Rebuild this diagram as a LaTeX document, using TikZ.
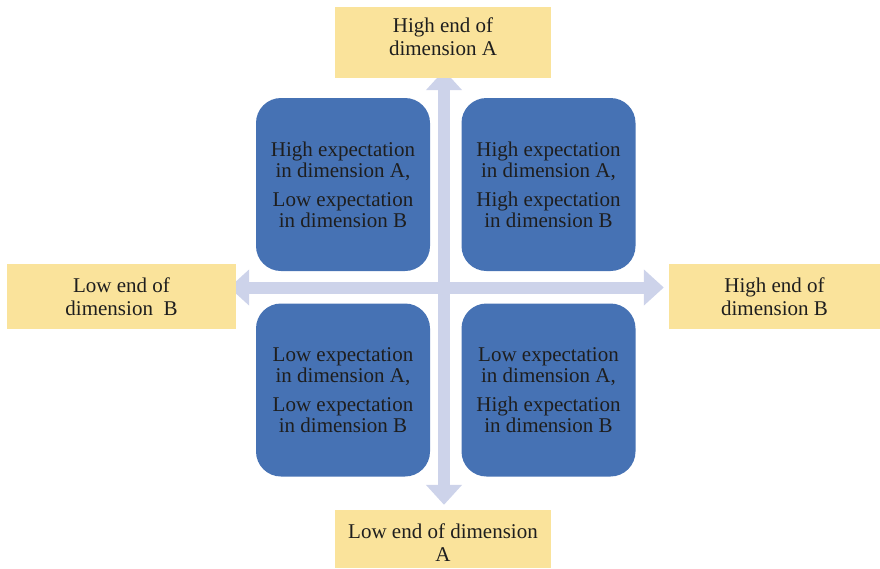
\documentclass[tikz,border=0pt]{standalone}
\usepackage{fontspec}
\setmainfont{Liberation Serif}
\usetikzlibrary{arrows.meta, backgrounds}

\definecolor{endfill}{HTML}{FAE39B}
\definecolor{quadfill}{HTML}{4672B4}
\definecolor{axisfill}{HTML}{CDD3EA}
\definecolor{inktext}{HTML}{1E1E1E}

\begin{document}
\begin{tikzpicture}[x=1pt, y=-1pt,
    endbox/.style={fill=endfill, text=inktext, align=center, inner sep=0pt, font=\fontsize{21}{23}\selectfont},
    quadbox/.style={fill=quadfill, rounded corners=25pt, text=inktext, align=center, minimum width=174pt, minimum height=173pt, inner sep=0pt, font=\fontsize{21}{21}\selectfont},
    axis/.style={draw=axisfill, line width=12pt, {Triangle[width=35pt,length=20pt]}-{Triangle[width=35pt,length=20pt]}}]
    \useasboundingbox (0,0) rectangle (880,568);
    % ends of the two dimensions
    \node[endbox, minimum width=216pt, minimum height=71pt] (highA) at (443,42.5) {High end of\\dimension A\rule[-11pt]{0pt}{0pt}};
    \node[endbox, minimum width=216pt, minimum height=58pt] (lowA) at (443,539) {\rule{0pt}{21pt}Low end of dimension\\A};
    \node[endbox, minimum width=229pt, minimum height=65pt] (lowB) at (121.5,296.5) {Low end of\\dimension~ B};
    \node[endbox, minimum width=211pt, minimum height=65pt] (highB) at (774.5,296.5) {High end of\\dimension B};
    % quadrants
    \node[quadbox] (hAlB) at (343,184.5) {High expectation\\in dimension A,\\[8pt]Low expectation\\in dimension B};
    \node[quadbox] (hAhB) at (548.5,184.5) {High expectation\\in dimension A,\\[8pt]High expectation\\in dimension B};
    \node[quadbox] (lAlB) at (343,390) {Low expectation\\in dimension A,\\[8pt]Low expectation\\in dimension B};
    \node[quadbox] (lAhB) at (548.5,390) {Low expectation\\in dimension A,\\[8pt]High expectation\\in dimension B};
    % axes
    \coordinate (centre) at (444,287.5);
    \begin{scope}[on background layer]
        \draw[axis, shorten <=-8pt, shorten >=5pt] (highA.south -| centre) -- (lowA.north -| centre);
        \draw[axis, shorten <=-7pt, shorten >=5pt] (lowB.east |- centre) -- (highB.west |- centre);
    \end{scope}
\end{tikzpicture}
\end{document}
